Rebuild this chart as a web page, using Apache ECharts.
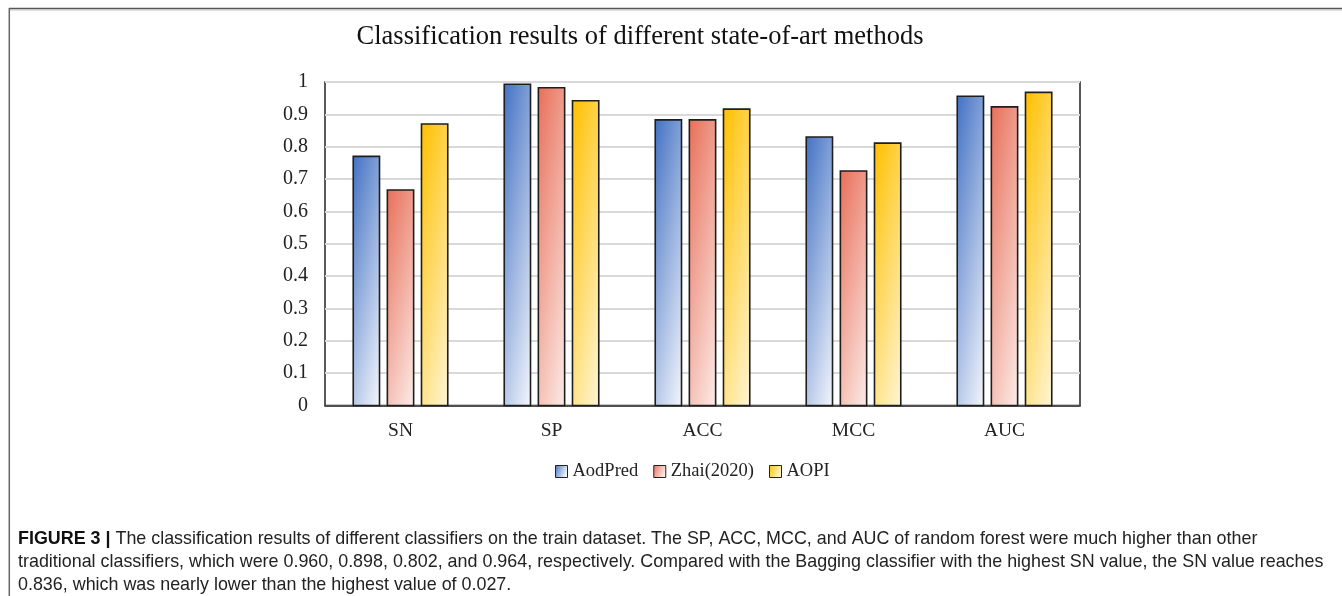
<!DOCTYPE html>
<html><head><meta charset="utf-8">
<script src="https://cdn.jsdelivr.net/npm/echarts@6/dist/echarts.min.js"></script>
<style>html,body{margin:0;padding:0;background:#fff}#c{width:1342px;height:596px}</style>
</head><body><div id="c"></div>
<script>
// ---- data ----
const categories = ['SN', 'SP', 'ACC', 'MCC', 'AUC'];
const methods = ['AodPred', 'Zhai(2020)', 'AOPI'];
const aodPred = [0.770, 0.993, 0.883, 0.830, 0.956];
const zhai2020 = [0.666, 0.982, 0.883, 0.725, 0.923];
const aopi = [0.870, 0.942, 0.916, 0.811, 0.968];
const titleText = 'Classification results of different state-of-art methods';
const captionLines = [
  '{b|FIGURE 3 |} The classification results of different classifiers on the train dataset. The SP, ACC, MCC, and AUC of random forest were much higher than other',
  'traditional classifiers, which were 0.960, 0.898, 0.802, and 0.964, respectively. Compared with the Bagging classifier with the highest SN value, the SN value reaches',
  '0.836, which was nearly lower than the highest value of 0.027.'
];

// ---- styles ----
const baseColors = ['#4472C4', '#E8705A', '#FFC000'];
const lightColors = ['#F3F6FC', '#FCEBE7', '#FFF5D5'];
const serif = 'Liberation Serif';
const seriesValues = [aodPred, zhai2020, aopi];

function makeRender(si) {
  return function (params, api) {
    const ci = api.value(0), v = api.value(1);
    const top = api.coord([ci, v]);
    const base = api.coord([ci, 0]);
    const band = api.size([1, 0])[0];
    const w = band * 0.174, gap = band * 0.052;
    const cx = top[0] + (si - 1) * (w + gap);
    const x = cx - w / 2, y = top[1], h = base[1] - top[1];
    return {
      type: 'group',
      children: [
        {
          type: 'rect',
          shape: { x: 0, y: 0, width: 1, height: 1 },
          x: x, y: y, scaleX: w, scaleY: h,
          style: {
            fill: new echarts.graphic.LinearGradient(0, 0, 0.61, 1.2, [
              { offset: 0, color: baseColors[si] },
              { offset: 1, color: lightColors[si] }
            ])
          }
        },
        {
          type: 'rect',
          shape: { x: x, y: y, width: w, height: h },
          style: { fill: null, stroke: '#1e1e1e', lineWidth: 1.6 }
        }
      ]
    };
  };
}

const chart = echarts.init(document.getElementById('c'), null, { renderer: 'canvas' });
chart.setOption({
  animation: false,
  backgroundColor: '#fff',
  grid: {
    left: 325, right: 262, top: 82, bottom: 190.5,
    show: true, borderColor: '#222', borderWidth: 1.5, backgroundColor: 'transparent'
  },
  legend: {
    data: methods,
    left: 550, top: 457,
    icon: 'rect', itemWidth: 12, itemHeight: 12, itemGap: 15,
    itemStyle: { borderColor: '#222', borderWidth: 1 },
    textStyle: { fontFamily: serif, fontSize: 18.5, color: '#222' }
  },
  xAxis: {
    type: 'category',
    data: categories,
    axisLine: { lineStyle: { color: '#222', width: 1.5 } },
    axisTick: { inside: true, length: 5, lineStyle: { color: '#222', width: 1.5 } },
    axisLabel: { fontFamily: serif, fontSize: 19.5, color: '#222', margin: 15 },
    splitLine: { show: false }
  },
  yAxis: {
    type: 'value', min: 0, max: 1, interval: 0.1,
    axisLine: { show: false }, axisTick: { show: false },
    axisLabel: { fontFamily: serif, fontSize: 20, color: '#222', margin: 17 },
    splitLine: { lineStyle: { color: '#d9d9d9', width: 2 } }
  },
  series: methods.map(function (name, si) {
    return {
      type: 'custom',
      name: name,
      renderItem: makeRender(si),
      encode: { x: 0, y: 1 },
      itemStyle: {
        color: new echarts.graphic.LinearGradient(0, 0, 1, 0.4, [
          { offset: 0, color: baseColors[si] },
          { offset: 1, color: lightColors[si] }
        ]),
        borderColor: '#222', borderWidth: 1
      },
      data: seriesValues[si].map(function (v, i) { return [i, v]; })
    };
  }),
  graphic: [
    { type: 'line', shape: { x1: 9, y1: 8.5, x2: 1342, y2: 8.5 }, style: { stroke: '#555', lineWidth: 1.5 } },
    { type: 'line', shape: { x1: 10, y1: 10, x2: 1342, y2: 10 }, style: { stroke: '#bdbdbd', lineWidth: 1 } },
    { type: 'line', shape: { x1: 9.3, y1: 8, x2: 9.3, y2: 596 }, style: { stroke: '#666', lineWidth: 1.5 } },
    {
      type: 'text', x: 640, y: 37,
      style: { text: titleText, fontFamily: serif, fontSize: 26.5, fill: '#111', align: 'center', verticalAlign: 'middle' }
    },
    {
      type: 'text', x: 18, y: 528,
      style: {
        text: captionLines.join('\n'),
        fontFamily: 'Liberation Sans', fontSize: 17.9, fill: '#222', lineHeight: 23,
        rich: { b: { fontFamily: 'Liberation Sans', fontSize: 17.9, fontWeight: 'bold', fill: '#111', lineHeight: 23 } }
      }
    }
  ]
});
</script>
</body></html>
